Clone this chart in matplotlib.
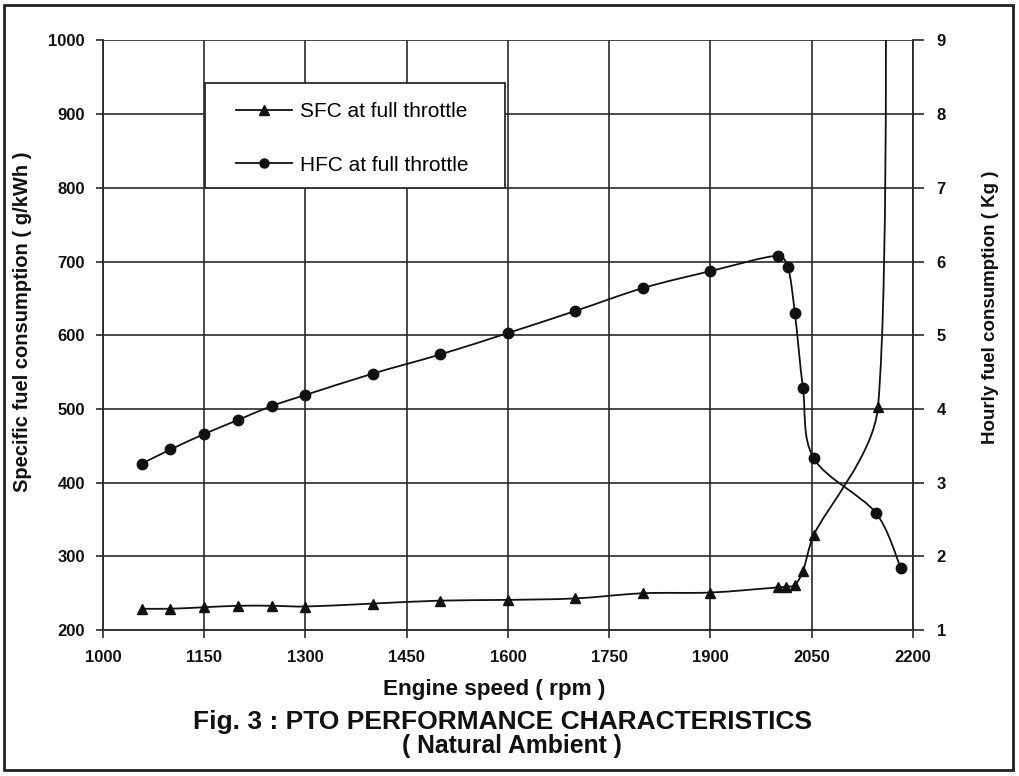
"""PTO performance characteristics: SFC and HFC against engine speed."""

import numpy as np
import matplotlib
matplotlib.use("Agg")
import matplotlib.pyplot as plt
from matplotlib.path import Path
from matplotlib.patches import PathPatch, Rectangle
from matplotlib.lines import Line2D

# data
sfc_rpm = [1058, 1100, 1150, 1200, 1250, 1300, 1400, 1500, 1600, 1700, 1800,
           1900, 2000, 2012, 2025, 2037, 2053, 2148, 2160]
sfc_val = [229, 229, 231, 233, 233, 232, 236, 240, 241, 243, 250,
           251, 258, 259, 261, 280, 329, 502, 1400]
hfc_rpm = [1058, 1100, 1150, 1200, 1250, 1300, 1400, 1500, 1600, 1700, 1800,
           1900, 2000, 2015, 2025, 2037, 2053, 2145, 2182]
hfc_val = [3.26, 3.45, 3.66, 3.85, 4.04, 4.19, 4.48, 4.74, 5.03, 5.33, 5.64,
           5.87, 6.08, 5.92, 5.30, 4.28, 3.33, 2.59, 1.84]
x_ticks = [1000, 1150, 1300, 1450, 1600, 1750, 1900, 2050, 2200]
sfc_ticks = [200, 300, 400, 500, 600, 700, 800, 900, 1000]
hfc_ticks = [1, 2, 3, 4, 5, 6, 7, 8, 9]

FONT = "Liberation Sans"
INK = "#111111"
GRID = "#2a2a2a"


def smooth_line(ax, xs, ys, **kw):
    """Smoothed line through the points, cubic Bezier in screen space.

    Tangents are Catmull-Rom, but each control arm is capped at a third of
    its segment so short or steep segments don't overshoot.
    """
    pts = ax.transData.transform(np.column_stack([xs, ys]))
    n = len(pts)
    tang = np.zeros_like(pts)
    for i in range(n):
        tang[i] = (pts[min(i + 1, n - 1)] - pts[max(i - 1, 0)]) / 2.0

    def arm(t, seg_len):
        a = t / 3.0
        d = np.hypot(*a)
        lim = seg_len / 3.0
        return a * (lim / d) if d > lim else a

    verts = [pts[0]]
    codes = [Path.MOVETO]
    for i in range(n - 1):
        p1, p2 = pts[i], pts[i + 1]
        seg = np.hypot(*(p2 - p1))
        verts += [p1 + arm(tang[i], seg), p2 - arm(tang[i + 1], seg), p2]
        codes += [Path.CURVE4] * 3
    patch = PathPatch(Path(verts, codes), transform=None, fill=False, **kw)
    patch.set_clip_path(ax.patch)
    ax.add_artist(patch)
    return patch


fig = plt.figure(figsize=(10.19, 7.76), dpi=100)
fig.patches.append(Rectangle((0.004, 0.008), 0.99, 0.985, transform=fig.transFigure,
                             fill=False, edgecolor="#222222", lw=2.0))

ax = fig.add_axes([0.101, 0.188, 0.795, 0.760])
ax2 = ax.twinx()
ax.set_xlim(1000, 2200)
ax.set_ylim(200, 1000)
ax2.set_ylim(1, 9)

ax.set_xticks(x_ticks)
ax.set_yticks(sfc_ticks)
ax2.set_yticks(hfc_ticks)
ax.grid(True, color=GRID, lw=1.2)
ax.set_axisbelow(True)

for a in (ax, ax2):
    for s in a.spines.values():
        s.set_visible(False)
    a.tick_params(direction="out", width=1.2, color=GRID,
                  labelsize=12, labelcolor=INK)
ax.tick_params(axis="y", length=5, pad=8)
ax.tick_params(axis="x", length=6, pad=8)
ax2.tick_params(axis="y", length=8, pad=9)
ax.spines["left"].set_visible(True)
ax.spines["bottom"].set_visible(True)
ax2.spines["right"].set_visible(True)
for s in (ax.spines["left"], ax.spines["bottom"], ax2.spines["right"]):
    s.set_linewidth(1.3)
    s.set_color(GRID)
for lab in ax.get_xticklabels() + ax.get_yticklabels() + ax2.get_yticklabels():
    lab.set_fontfamily(FONT)
    lab.set_fontweight("bold")

smooth_line(ax, sfc_rpm, sfc_val, edgecolor=INK, lw=1.3, zorder=3)
ax.plot(sfc_rpm, sfc_val, ls="none", marker="^", ms=7, color=INK, zorder=4)
smooth_line(ax2, hfc_rpm, hfc_val, edgecolor=INK, lw=1.3, zorder=3)
ax2.plot(hfc_rpm, hfc_val, ls="none", marker="o", ms=7.5, color=INK, zorder=4)

label_kw = dict(fontfamily=FONT, fontweight="bold", color=INK,
                ha="center", va="center")
fig.text(0.022, 0.586, "Specific fuel consumption ( g/kWh )", rotation=90,
         fontsize=14.5, **label_kw)
fig.text(0.972, 0.604, "Hourly fuel consumption ( Kg )", rotation=90,
         fontsize=13.5, **label_kw)
fig.text(0.485, 0.112, "Engine speed ( rpm )", fontsize=16.2, **label_kw)
fig.text(0.493, 0.070, "Fig. 3 : PTO PERFORMANCE CHARACTERISTICS",
         fontsize=19, **label_kw)
fig.text(0.502, 0.039, "( Natural Ambient )", fontsize=17.8, **label_kw)

# legend: white box drawn separately, entries placed inside it
ax2.add_patch(Rectangle((0.126, 0.749), 0.370, 0.178, transform=ax2.transAxes,
                        facecolor="white", edgecolor=GRID, lw=1.3, zorder=9))
handles = [
    Line2D([], [], color=INK, lw=1.3, marker="^", ms=7),
    Line2D([], [], color=INK, lw=1.3, marker="o", ms=6.5),
]
leg = ax2.legend(handles, ["SFC at full throttle", "HFC at full throttle"],
                 loc="upper left", bbox_to_anchor=(0.164, 0.895),
                 borderaxespad=0, borderpad=0, frameon=False,
                 handlelength=2.7, labelspacing=1.65, handletextpad=0.4,
                 prop={"family": FONT, "size": 15})
leg.set_zorder(10)

fig.savefig("out.png", dpi=100)
